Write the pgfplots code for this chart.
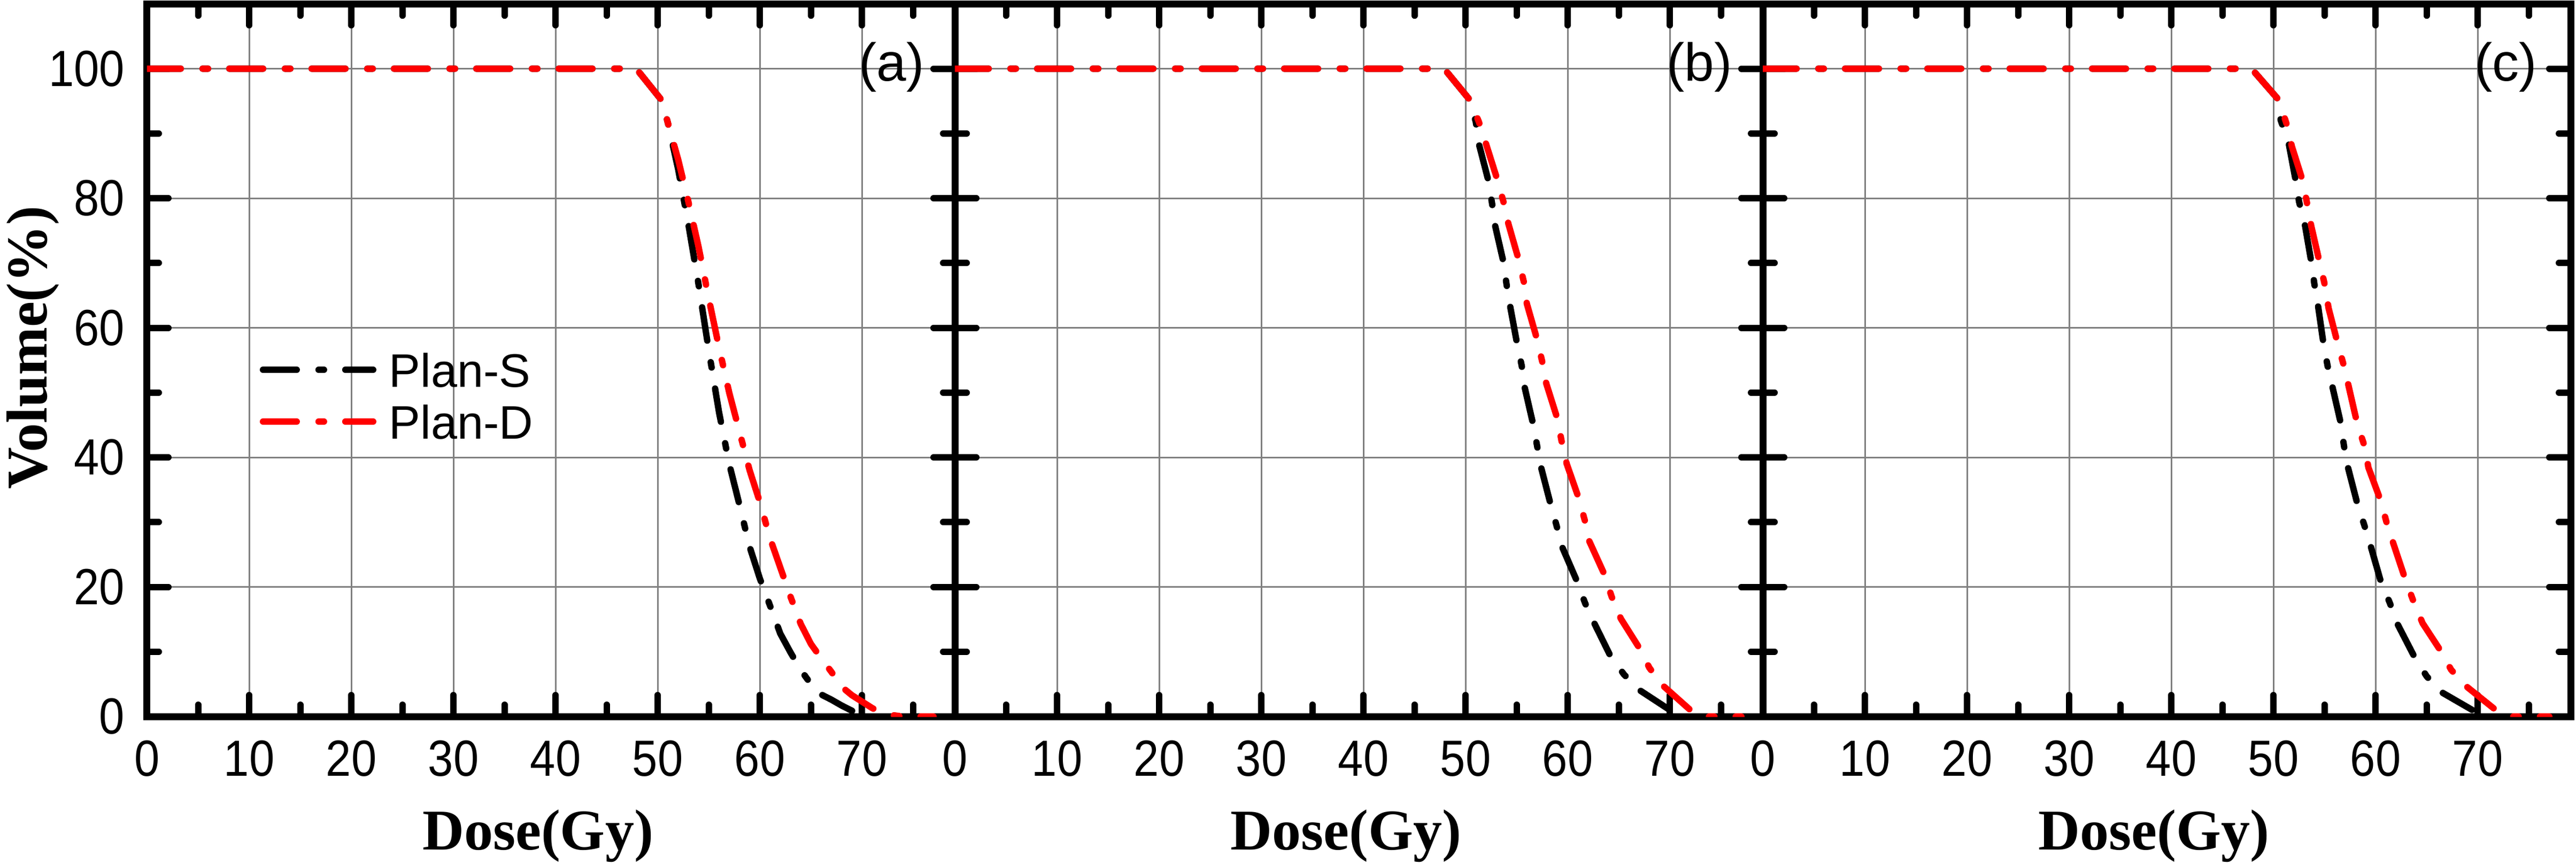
\documentclass[border=0pt]{standalone}
\usepackage{graphicx}
\usepackage{fontspec}
\setmainfont{Liberation Sans}
\newfontfamily\serifff{Liberation Serif}
\usepackage{pgfplots}
\pgfplotsset{compat=1.18}

\newcommand{\tlfont}{\fontsize{8.5}{10}\selectfont}
\newcommand{\stretchy}[1]{\scalebox{1}[1.12]{#1}}

\pgfplotsset{
  DVH/.style={
    scale only axis, width=151.1pt, height=133.375pt,
    xmin=0, xmax=79.1, ymin=0, ymax=110,
    xtick={0,10,...,70}, ytick={0,20,...,100},
    minor xtick={5,15,...,75}, minor ytick={10,30,...,90},
    tick align=inside, tick pos=both,
    major tick length=4pt, minor tick length=2.2pt,
    every tick/.style={black, line width=1.2pt, line cap=round},
    axis line style={line width=1.3pt, black},
    grid=major, major grid style={line width=0.3pt, color=gray},
    /pgf/number format/assume math mode=true,
    xticklabel={\tlfont\stretchy{\pgfmathprintnumber{\tick}}},
    yticklabel={\tlfont\stretchy{\pgfmathprintnumber{\tick}}},
    xticklabel style={anchor=north, inner sep=0pt, yshift=-4.3pt},
    yticklabel style={anchor=east, inner sep=0pt, xshift=-4pt},
    every axis x label/.style={at={(axis description cs:0.4838,-0.18669)}, anchor=base},
    every axis y label/.style={at={(axis description cs:-0.12376,0.518)}, rotate=90, anchor=base},
    label style={font=\serifff\bfseries\fontsize{10.8}{12}\selectfont},
    xlabel={Dose(Gy)},
    clip=true,
  },
  PS/.style={black, line width=1.2pt, line cap=round, line join=round, dash pattern=on 6.3pt off 4.1pt on 1pt off 4pt},
  PD/.style={red, line width=1.2pt, line cap=round, line join=round, dash pattern=on 6.3pt off 4.1pt on 1pt off 4pt},
}

\begin{document}
\begin{tikzpicture}
\useasboundingbox (0,0) rectangle (481.8pt,161.8pt);

% ---------------- (a)
\begin{axis}[DVH, at={(27.5pt,27.7pt)}, anchor=south west,
  ylabel={Volume(\%)},
  legend style={draw=none, fill=none, font=\fontsize{8.8}{10}\selectfont,
    at={(rel axis cs:0.1396,0.4501)}, anchor=west, inner sep=0pt, outer sep=0pt,
    row sep=3.3pt, nodes={inner sep=0pt, text height=6.4pt, text depth=0pt},
    /tikz/column 1/.style={column sep=2.4pt}},
  legend cell align=left,
  legend image code/.code={\draw[#1] (0pt,0pt) -- (20.6pt,0pt);},
]
\addplot[PS] coordinates {(0,100)(47.9,100)(50.4,95.1)(51.0,91.6)(52.0,84.5)(53.0,76.0)(54.0,66.7)(55.0,56.5)(56.0,47.0)(57.0,39.0)(58.0,32.7)(59.0,26.2)(60.0,21.3)(61.0,17.1)(62.0,12.8)(63.0,9.9)(64.0,7.2)(65.0,5.0)(66.0,3.4)(67.0,2.6)(68.0,1.7)(69.0,0.9)(70.0,0.2)(71.0,0)};
\addlegendentry{Plan-S}
\addplot[PD] coordinates {(0,100)(47.9,100)(50.4,95.1)(51.0,91.6)(52.0,86.0)(53.0,79.5)(54.0,72.5)(55.0,64.5)(56.0,57.0)(57.0,50.0)(58.0,44.0)(59.0,38.0)(60.0,33.1)(61.0,27.5)(62.0,23.0)(63.0,18.5)(64.0,14.3)(65.0,11.2)(66.0,9.0)(67.0,6.9)(68.0,4.6)(69.0,3.3)(70.0,2.3)(71.0,1.3)(72.0,0.5)(73.0,0.2)(74.0,0)(77.0,0)};
\addlegendentry{Plan-D}
\node[anchor=west, inner sep=0pt, font=\fontsize{10}{12}\selectfont] at (axis cs:69.6,100.2) {(a)};
\end{axis}

% ---------------- (b)
\begin{axis}[DVH, at={(178.6pt,27.7pt)}, anchor=south west, yticklabels={}]
\addplot[PS] coordinates {(0,100)(47.9,100)(50.4,95.2)(51.0,91.8)(51.3,88.4)(52.2,82.9)(52.6,79.1)(52.9,75.7)(53.7,70.2)(54.0,66.8)(54.4,63.0)(55.0,57.9)(55.5,54.1)(55.8,50.7)(56.6,45.2)(57.0,41.8)(57.4,38.4)(58.3,32.9)(58.9,29.5)(59.5,26.0)(60.9,20.9)(61.7,17.5)(62.6,14.4)(64.1,9.6)(65.5,6.5)(67.0,4.1)(70.0,1.0)(70.6,0)};
\addplot[PD] coordinates {(0,100)(47.9,100)(50.4,95.2)(51.3,91.8)(52.0,88.4)(53.1,82.9)(53.7,79.5)(54.2,76.0)(55.2,70.5)(55.7,67.1)(56.0,63.7)(57.0,58.2)(57.5,54.8)(57.9,51.4)(59.0,45.9)(59.4,42.5)(59.9,39.0)(61.1,33.6)(61.7,30.1)(62.1,27.1)(63.6,21.9)(64.3,18.5)(65.2,15.1)(67.0,10.6)(68.0,7.5)(69.3,4.8)(72.5,0.3)(73.5,0)(77,0)};
\node[anchor=west, inner sep=0pt, font=\fontsize{10}{12}\selectfont] at (axis cs:69.6,100.2) {(b)};
\end{axis}

% ---------------- (c)
\begin{axis}[DVH, at={(329.7pt,27.7pt)}, anchor=south west, yticklabels={}]
\addplot[PS] coordinates {(0,100)(47.85,100)(50.5,95.2)(50.7,92.1)(51.5,88.4)(52.2,82.5)(52.5,79.5)(53.1,75.7)(53.7,70.2)(54.0,66.8)(54.4,63.0)(54.9,57.5)(55.3,54.1)(55.8,50.7)(56.6,45.2)(56.9,41.8)(57.3,38.4)(58.2,32.9)(58.9,29.5)(59.5,26.4)(60.5,20.9)(61.4,17.5)(62.1,14.4)(63.8,9.2)(65.0,6.2)(66.4,3.8)(69.8,0.7)(70.5,0)};
\addplot[PD] coordinates {(0,100)(47.85,100)(50.5,95.2)(51.3,91.4)(51.8,88.0)(52.9,82.5)(53.3,79.1)(53.7,75.7)(54.5,70.2)(55.0,66.8)(55.4,63.0)(56.3,57.5)(56.9,54.1)(57.4,50.7)(58.2,45.2)(58.9,41.8)(59.3,38.4)(60.5,33.3)(61.1,29.8)(61.8,26.4)(62.9,21.2)(63.7,17.8)(64.6,14.4)(66.3,10.3)(67.4,7.2)(69.0,4.5)(72.0,0.7)(72.4,0.3)(73.5,0)(77,0)};
\node[anchor=west, inner sep=0pt, font=\fontsize{10}{12}\selectfont] at (axis cs:69.6,100.2) {(c)};
\end{axis}
\end{tikzpicture}
\end{document}
